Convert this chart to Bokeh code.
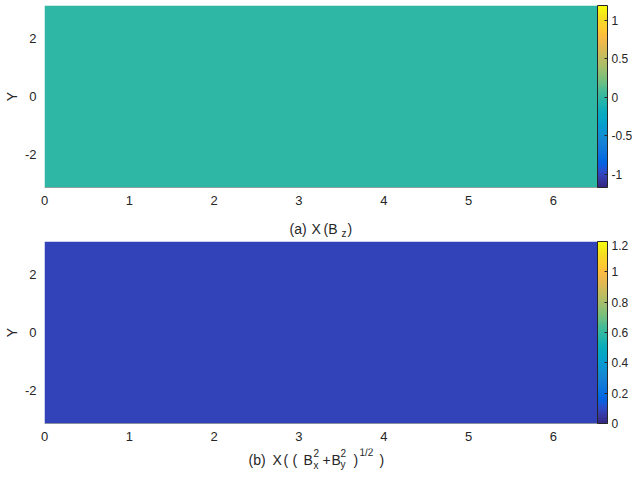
import numpy as np
from bokeh.plotting import figure
from bokeh.models import (LinearColorMapper, ColorBar, FixedTicker, Range1d,
                          CustomJSTickFormatter)
from bokeh.core.properties import value
from bokeh.layouts import column
from bokeh.embed import file_html
from bokeh.resources import INLINE

# ---------------- data ----------------
x_extent = [0.0, 6.52]
y_extent = [-3.1416, 3.1416]
bz_field = [[0.0, 0.0], [0.0, 0.0]]
bperp_field = [[0.08, 0.08], [0.08, 0.08]]
bz_limits = [-1.17, 1.19]
bperp_limits = [0.0, 1.2]
x_ticks = [0, 1, 2, 3, 4, 5, 6]
y_ticks = [-2, 0, 2]
bz_ticks = [-1, -0.5, 0, 0.5, 1]
bperp_ticks = [0, 0.2, 0.4, 0.6, 0.8, 1.0, 1.2]

# ---------------- parula colormap ----------------
_parula = [
    (0.2081, 0.1663, 0.5292), (0.2116, 0.1898, 0.5777), (0.2123, 0.2138, 0.6270), (0.2081, 0.2386, 0.6771),
    (0.1959, 0.2645, 0.7279), (0.1707, 0.2919, 0.7792), (0.1253, 0.3242, 0.8303), (0.0591, 0.3598, 0.8683),
    (0.0117, 0.3875, 0.8820), (0.0060, 0.4086, 0.8828), (0.0165, 0.4266, 0.8786), (0.0329, 0.4430, 0.8720),
    (0.0498, 0.4586, 0.8641), (0.0629, 0.4737, 0.8554), (0.0723, 0.4887, 0.8467), (0.0779, 0.5040, 0.8384),
    (0.0793, 0.5200, 0.8312), (0.0749, 0.5375, 0.8263), (0.0641, 0.5570, 0.8240), (0.0488, 0.5772, 0.8228),
    (0.0343, 0.5966, 0.8199), (0.0265, 0.6137, 0.8135), (0.0239, 0.6287, 0.8038), (0.0231, 0.6418, 0.7913),
    (0.0228, 0.6535, 0.7768), (0.0267, 0.6642, 0.7607), (0.0384, 0.6743, 0.7436), (0.0590, 0.6838, 0.7254),
    (0.0843, 0.6928, 0.7062), (0.1133, 0.7015, 0.6859), (0.1453, 0.7098, 0.6646), (0.1801, 0.7177, 0.6424),
    (0.2178, 0.7250, 0.6193), (0.2586, 0.7317, 0.5954), (0.3022, 0.7376, 0.5712), (0.3482, 0.7424, 0.5473),
    (0.3953, 0.7459, 0.5244), (0.4420, 0.7481, 0.5033), (0.4871, 0.7491, 0.4840), (0.5300, 0.7491, 0.4661),
    (0.5709, 0.7485, 0.4494), (0.6099, 0.7473, 0.4337), (0.6473, 0.7456, 0.4188), (0.6834, 0.7435, 0.4044),
    (0.7184, 0.7411, 0.3905), (0.7525, 0.7384, 0.3768), (0.7858, 0.7356, 0.3633), (0.8185, 0.7327, 0.3498),
    (0.8507, 0.7299, 0.3360), (0.8824, 0.7274, 0.3217), (0.9139, 0.7258, 0.3063), (0.9450, 0.7261, 0.2886),
    (0.9739, 0.7314, 0.2666), (0.9938, 0.7455, 0.2403), (0.9990, 0.7653, 0.2164), (0.9955, 0.7861, 0.1967),
    (0.9880, 0.8066, 0.1794), (0.9789, 0.8271, 0.1633), (0.9697, 0.8481, 0.1475), (0.9626, 0.8705, 0.1309),
    (0.9589, 0.8949, 0.1132), (0.9598, 0.9218, 0.0948), (0.9661, 0.9514, 0.0755), (0.9763, 0.9831, 0.0538),
]
PARULA = ["#%02x%02x%02x" % tuple(int(round(c * 255)) for c in rgb) for rgb in _parula]

FONT = "Liberation Sans"
TXT = "#262626"
FIG_W = 632
LEFT = 44          # y-axis panel width
IMG_W = 553        # pixels covered by the image
FRAME_H = 182
FRAME_W = FIG_W - LEFT
x_view_end = x_extent[0] + (x_extent[1] - x_extent[0]) * FRAME_W / IMG_W
BASE_SHIFT = 6     # compensation for the strip's text baseline placement

fmt = CustomJSTickFormatter(code="return String(Math.round(tick*100)/100);")


def make_panel(field, limits, cticks, b_top, b_bottom):
    p = figure(width=FIG_W, height=b_top + FRAME_H + b_bottom, output_backend="svg",
               toolbar_location=None, title=None,
               x_range=Range1d(x_extent[0], x_view_end), y_range=Range1d(*y_extent),
               min_border_left=LEFT, min_border_right=0,
               min_border_top=b_top, min_border_bottom=b_bottom)
    p.background_fill_color = "white"
    p.border_fill_color = "white"
    p.outline_line_color = None
    p.grid.visible = False

    mapper = LinearColorMapper(palette=PARULA, low=limits[0], high=limits[1])
    p.image(image=[np.array(field, dtype=float)], x=x_extent[0], y=y_extent[0],
            dw=x_extent[1] - x_extent[0], dh=y_extent[1] - y_extent[0], color_mapper=mapper)

    for ax in (p.xaxis, p.yaxis):
        ax.major_tick_in = 0
        ax.major_tick_out = 0
        ax.minor_tick_line_color = None
        ax.major_label_text_font = FONT
        ax.major_label_text_font_size = "13px"
        ax.major_label_text_color = TXT
        ax.major_label_standoff = 8
        ax.formatter = fmt
    p.xaxis.ticker = FixedTicker(ticks=x_ticks)
    p.yaxis.ticker = FixedTicker(ticks=y_ticks)
    p.xaxis.bounds = (x_extent[0], x_extent[1])
    p.xaxis.axis_line_color = "#1a1a1a"
    p.xaxis.axis_line_alpha = 0.35
    p.yaxis.axis_line_color = None
    p.yaxis.axis_label = "Y"
    p.yaxis.axis_label_text_font = FONT
    p.yaxis.axis_label_text_font_size = "14px"
    p.yaxis.axis_label_text_font_style = "normal"
    p.yaxis.axis_label_text_color = TXT
    p.yaxis.axis_label_standoff = 2

    cb = ColorBar(color_mapper=mapper, ticker=FixedTicker(ticks=cticks), formatter=fmt,
                  width=10, height=FRAME_H, location=(IMG_W, 0),
                  margin=0, padding=0, label_standoff=4,
                  major_label_text_font=FONT, major_label_text_font_size="12px",
                  major_label_text_color=TXT, major_tick_line_color=TXT,
                  major_tick_in=3, major_tick_out=0, minor_tick_line_color=None,
                  bar_line_color=TXT, bar_line_width=1,
                  background_fill_alpha=0, border_line_color=None)
    p.add_layout(cb)
    return p


def make_label(height, big, small):
    q = figure(width=FIG_W, height=height, output_backend="svg", toolbar_location=None,
               title=None,
               x_range=Range1d(0, FRAME_W), y_range=Range1d(0, height),
               min_border_left=LEFT, min_border_right=0, min_border_top=0, min_border_bottom=0,
               x_axis_location=None, y_axis_location=None)
    q.background_fill_color = "white"
    q.border_fill_color = "white"
    q.outline_line_color = None
    q.grid.visible = False
    for parts, size in ((big, "14px"), (small, "10px")):
        q.text(x=[t[1] for t in parts], y=[t[2] + BASE_SHIFT for t in parts],
               text=[t[0] for t in parts],
               text_font=value(FONT), text_font_size=value(size), text_color=TXT,
               text_align="left", text_baseline="alphabetic")
    return q


# axis title pieces: (text, x px right of the frame's left edge, baseline px above strip bottom)
a_big = [("(a)", 245, 6), ("X", 267, 6), ("(B", 279, 6), (")", 303, 6)]
a_small = [("z", 297, 1)]
b_big = [("(b)", 204, 7), ("X", 228, 7), ("(", 239, 7), ("(", 248, 7), ("B", 259, 7),
         ("+", 278, 7), ("B", 287, 7), (")", 309, 7), (")", 335, 7)]
b_small = [("2", 269, 14), ("x", 269, 1), ("2", 296, 14), ("y", 296, 2), ("1/2", 315, 14)]

p1 = make_panel(bz_field, bz_limits, bz_ticks, 5, 25)
l1 = make_label(28, a_big, a_small)
p2 = make_panel(bperp_field, bperp_limits, bperp_ticks, 1, 25)
l2 = make_label(24, b_big, b_small)

layout = column(p1, l1, p2, l2)
open("out.html", "w").write(file_html(layout, INLINE))
